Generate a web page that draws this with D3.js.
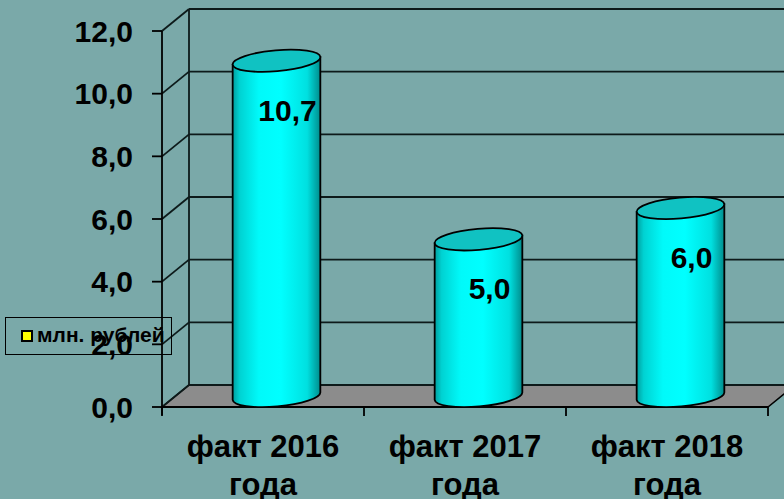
<!DOCTYPE html>
<html>
<head>
<meta charset="utf-8">
<script src="https://cdn.jsdelivr.net/npm/d3@7"></script>
<style>
  html, body { margin: 0; padding: 0; background: #7aa9a9; }
  svg { display: block; font-family: "Liberation Sans", Arial, sans-serif; }
</style>
</head>
<body>
<svg width="784" height="499"></svg>
<script>
// Chart data
var categories = ["факт 2016 года", "факт 2017 года", "факт 2018 года"];
var values = [10.7, 5.0, 6.0];
var labels = ["10,7", "5,0", "6,0"];
var yTicks = [0, 2, 4, 6, 8, 10, 12];
var seriesName = "млн. рублей";

var svg = d3.select("svg"),
    width = +svg.attr("width"),
    height = +svg.attr("height");

// Front plane of the 3D box; the back wall is shifted by (dx, dy)
var x0 = 162, x1 = 768, yBottom = 407, yTop = 31;
var dx = 27, dy = -22;

var x = d3.scaleBand().domain(categories).range([x0, x1]);
var y = d3.scaleLinear().domain([0, 12]).range([yBottom, yTop]);

var defs = svg.append("defs");
var grad = defs.append("linearGradient")
    .attr("id", "cyl")
    .attr("x1", "0%").attr("x2", "100%")
    .attr("y1", "0%").attr("y2", "0%");
[["0%", "#009e9e"], ["8%", "#00d2d2"], ["30%", "#00fafa"], ["55%", "#00ffff"],
 ["85%", "#00e0e0"], ["100%", "#008c8c"]].forEach(function(s) {
  grad.append("stop").attr("offset", s[0]).attr("stop-color", s[1]);
});

// Floor
svg.append("path")
    .attr("d", "M" + x0 + "," + yBottom + "L" + (x0 + dx) + "," + (yBottom + dy) +
               "L" + (x1 + dx) + "," + (yBottom + dy) + "L" + x1 + "," + yBottom + "Z")
    .attr("fill", "#8c8c8c")
    .attr("stroke", "#000")
    .attr("stroke-width", 1.5);

// Back wall gridlines and side wall diagonals
var walls = svg.append("g")
    .attr("stroke", "#0d1a1a")
    .attr("stroke-width", 1.8)
    .attr("fill", "none");

walls.selectAll("line.grid")
    .data(yTicks)
    .enter().append("line")
      .attr("class", "grid")
      .attr("x1", x0 + dx).attr("x2", width + 20)
      .attr("y1", function(d) { return y(d) + dy; })
      .attr("y2", function(d) { return y(d) + dy; });

walls.selectAll("line.side")
    .data(yTicks)
    .enter().append("line")
      .attr("class", "side")
      .attr("x1", x0).attr("x2", x0 + dx)
      .attr("y1", function(d) { return y(d); })
      .attr("y2", function(d) { return y(d) + dy; });

walls.append("line")
    .attr("x1", x0 + dx).attr("x2", x0 + dx)
    .attr("y1", y(12) + dy).attr("y2", y(0) + dy);

// Front value axis with ticks
var yAxis = svg.append("g");
yAxis.append("line")
    .attr("x1", x0).attr("x2", x0)
    .attr("y1", y(12)).attr("y2", y(0) + 8)
    .attr("stroke", "#000").attr("stroke-width", 1.8);
yAxis.selectAll("line.tick")
    .data(yTicks)
    .enter().append("line")
      .attr("class", "tick")
      .attr("x1", x0 - 10).attr("x2", x0)
      .attr("y1", function(d) { return y(d); })
      .attr("y2", function(d) { return y(d); })
      .attr("stroke", "#000").attr("stroke-width", 1.8);
yAxis.selectAll("text")
    .data(yTicks)
    .enter().append("text")
      .attr("x", 133)
      .attr("y", function(d) { return y(d); })
      .attr("dy", "0.36em")
      .attr("text-anchor", "end")
      .attr("font-size", 30)
      .attr("font-weight", "bold")
      .text(function(d) { return d.toFixed(1).replace(".", ","); });

// Category axis
var xAxis = svg.append("g");
xAxis.append("line")
    .attr("x1", x0).attr("x2", x1)
    .attr("y1", yBottom).attr("y2", yBottom)
    .attr("stroke", "#000").attr("stroke-width", 1.8);
xAxis.selectAll("line.tick")
    .data(categories.concat([null]))
    .enter().append("line")
      .attr("class", "tick")
      .attr("x1", function(d) { return d ? x(d) : x1; })
      .attr("x2", function(d) { return d ? x(d) : x1; })
      .attr("y1", yBottom).attr("y2", yBottom + 9)
      .attr("stroke", "#000").attr("stroke-width", 1.8);

var catLabel = xAxis.selectAll("text")
    .data(categories)
    .enter().append("text")
      .attr("text-anchor", "middle")
      .attr("font-size", 31)
      .attr("font-weight", "bold");
catLabel.append("tspan")
    .attr("x", function(d) { return x(d) + x.bandwidth() / 2; })
    .attr("y", 457)
    .text(function(d) { return d.split(" ").slice(0, 2).join(" "); });
catLabel.append("tspan")
    .attr("x", function(d) { return x(d) + x.bandwidth() / 2; })
    .attr("y", 495)
    .text(function(d) { return d.split(" ")[2]; });

// Cylinders
var rx = 44, ry = 10.5, tilt = -5;
var ct = Math.cos(tilt * Math.PI / 180), st = Math.sin(tilt * Math.PI / 180);

var bars = svg.selectAll("g.bar")
    .data(values)
    .enter().append("g")
      .attr("class", "bar");

function cx(i) { return x(categories[i]) + x.bandwidth() / 2 + dx / 2; }
function cyBase() { return y(0) + dy / 2; }
function cyTop(d) { return y(d) + dy / 2; }

bars.append("path")
    .attr("d", function(d, i) {
      var c = cx(i), yb = cyBase(), yt = cyTop(d);
      var lx = c - rx * ct, ly = -rx * st, rxp = c + rx * ct, ryp = rx * st;
      return "M" + lx + "," + (yt + ly) +
             "L" + lx + "," + (yb + ly) +
             "A" + rx + "," + ry + " " + tilt + " 0 0 " + rxp + "," + (yb + ryp) +
             "L" + rxp + "," + (yt + ryp) + "Z";
    })
    .attr("fill", "url(#cyl)")
    .attr("stroke", "#000")
    .attr("stroke-width", 1.8);

bars.append("ellipse")
    .attr("cx", function(d, i) { return cx(i); })
    .attr("cy", function(d) { return cyTop(d); })
    .attr("rx", rx).attr("ry", ry)
    .attr("transform", function(d, i) { return "rotate(" + tilt + "," + cx(i) + "," + cyTop(d) + ")"; })
    .attr("fill", "#10c2c2")
    .attr("stroke", "#000")
    .attr("stroke-width", 1.8);

bars.append("text")
    .attr("x", function(d, i) { return cx(i) + 11; })
    .attr("y", function(d) { return cyTop(d) + 49; })
    .attr("dy", "0.36em")
    .attr("text-anchor", "middle")
    .attr("font-size", 30)
    .attr("font-weight", "bold")
    .text(function(d, i) { return labels[i]; });

// Legend
var legend = svg.append("g");
legend.append("rect")
    .attr("x", 5.5).attr("y", 317.5)
    .attr("width", 166).attr("height", 37)
    .attr("fill", "none")
    .attr("stroke", "#000").attr("stroke-width", 1);
legend.append("rect")
    .attr("x", 22).attr("y", 331)
    .attr("width", 10).attr("height", 10)
    .attr("fill", "#ffff00")
    .attr("stroke", "#000").attr("stroke-width", 2);
legend.append("text")
    .attr("x", 37).attr("y", 342)
    .attr("font-size", 21)
    .attr("font-weight", "bold")
    .text(seriesName);
</script>
</body>
</html>
